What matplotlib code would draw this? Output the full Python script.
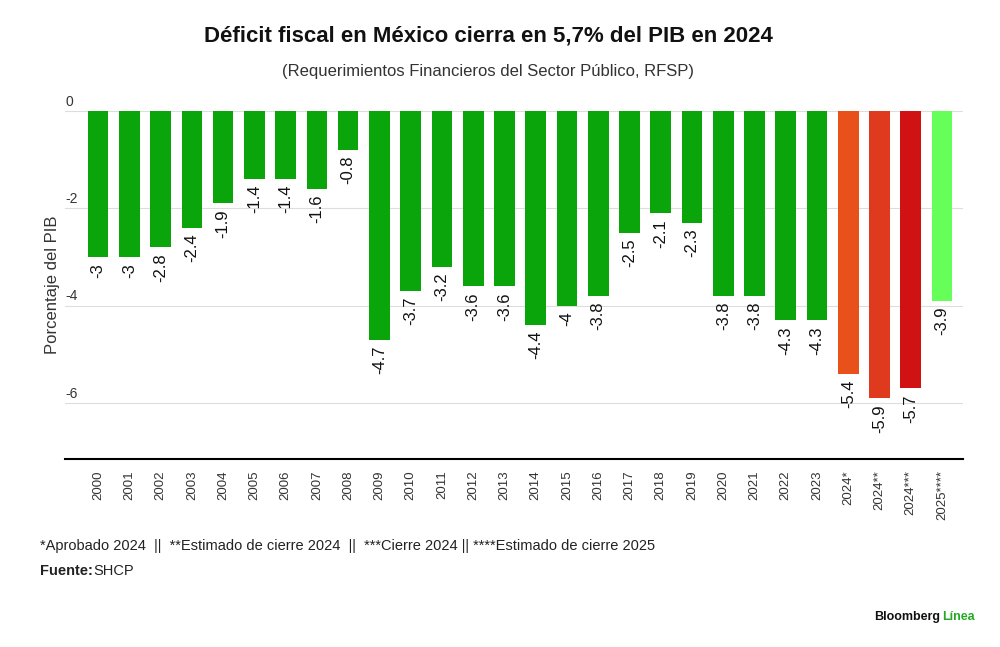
import matplotlib.pyplot as plt

years = [str(y) for y in range(2000, 2024)] + ['2024*', '2024**', '2024***', '2025****']
values = [-3, -3, -2.8, -2.4, -1.9, -1.4, -1.4, -1.6, -0.8, -4.7, -3.7, -3.2, -3.6, -3.6,
          -4.4, -4, -3.8, -2.5, -2.1, -2.3, -3.8, -3.8, -4.3, -4.3, -5.4, -5.9, -5.7, -3.9]
colors = ['#0aa50a'] * 24 + ['#e8521a', '#e03a1e', '#d01212', '#66ff5a']
yticks = [0, -2, -4, -6]

plt.rcParams['font.family'] = ['Liberation Sans', 'DejaVu Sans']
fig = plt.figure(figsize=(10, 6.47), dpi=100)
ax = fig.add_axes([0.065, 0.2906, 0.898, 0.5378])
x = range(len(values))
ax.bar(x, values, width=0.66, color=colors, zorder=2)
ax.set_xlim(-1.06, 27.67)
ax.set_ylim(-7.15, 0)
for t in yticks:
    ax.axhline(t, color='#dddddd', lw=0.8, zorder=1)
    ax.text(0.0, t + 0.05, str(t), transform=ax.get_yaxis_transform(),
            fontsize=10, color='#333333', va='bottom', ha='left')
ax.set_yticks([])
for i, v in enumerate(values):
    lab = f'{v:g}'
    ax.text(i, v - 0.12, lab, rotation=90, ha='center', va='top', fontsize=12, color='#111111')
ax.set_xticks(list(x))
ax.set_xticklabels(years, rotation=90, fontsize=9.5, color='#333333')
ax.tick_params(axis='x', length=0, pad=8)
for s in ['top', 'right', 'left']:
    ax.spines[s].set_visible(False)
ax.spines['bottom'].set_linewidth(1.5)
ax.set_ylabel('Porcentaje del PIB', fontsize=12, color='#333333')
ax.yaxis.set_label_coords(-0.006, 0.5)

fig.text(0.488, 0.945, 'Déficit fiscal en México cierra en 5,7% del PIB en 2024',
         ha='center', va='center', fontsize=16, fontweight='bold', color='#111111')
fig.text(0.488, 0.89, '(Requerimientos Financieros del Sector Público, RFSP)',
         ha='center', va='center', fontsize=12, color='#333333')
fig.text(0.04, 0.156, '*Aprobado 2024  ||  **Estimado de cierre 2024  ||  ***Cierre 2024 || ****Estimado de cierre 2025',
         fontsize=10.5, color='#222222', va='center')
fig.text(0.04, 0.118, 'Fuente:', fontsize=10.5, fontweight='bold', color='#222222', va='center')
fig.text(0.093, 0.118, 'SHCP', fontsize=10.5, color='#222222', va='center')
fig.text(0.94, 0.046, 'Bloomberg', fontsize=9, fontweight='bold', color='#111111', ha='right', va='center')
fig.text(0.942, 0.046, 'Línea', fontsize=9, fontweight='bold', color='#22aa22', ha='left', va='center')
fig.savefig('out.png')
